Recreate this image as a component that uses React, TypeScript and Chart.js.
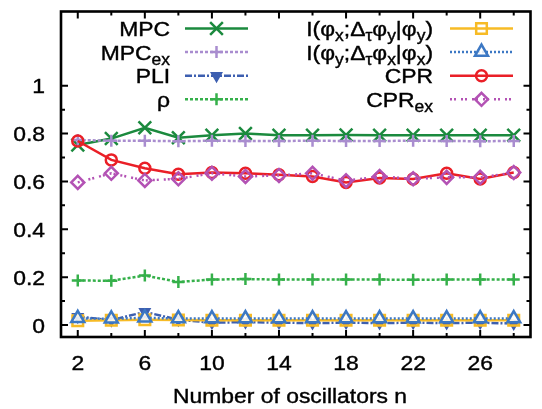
import React, { useEffect, useRef } from 'react';
import { Chart, registerables } from 'chart.js';

Chart.register(...registerables);

const FAMILY = "'Liberation Sans', Arial, Helvetica, sans-serif";

// ---- data ----
const nValues = [2, 4, 6, 8, 10, 12, 14, 16, 18, 20, 22, 24, 26, 28];
const mpc = [0.752, 0.779, 0.824, 0.783, 0.793, 0.800, 0.793, 0.793, 0.794, 0.793, 0.793, 0.793, 0.793, 0.793];
const mpcEx = [0.773, 0.770, 0.770, 0.768, 0.770, 0.769, 0.769, 0.770, 0.769, 0.769, 0.770, 0.769, 0.768, 0.769];
const pli = [0.035, 0.020, 0.055, 0.022, 0.010, 0.012, 0.010, 0.008, 0.010, 0.008, 0.010, 0.008, 0.010, 0.006];
const rho = [0.186, 0.185, 0.207, 0.180, 0.190, 0.192, 0.190, 0.190, 0.190, 0.190, 0.189, 0.190, 0.190, 0.190];
const infoXY = [0.018, 0.020, 0.022, 0.021, 0.020, 0.020, 0.020, 0.020, 0.020, 0.020, 0.020, 0.020, 0.020, 0.020];
const infoYX = [0.028, 0.026, 0.030, 0.027, 0.027, 0.027, 0.027, 0.027, 0.027, 0.027, 0.027, 0.027, 0.027, 0.027];
const cpr = [0.769, 0.690, 0.655, 0.630, 0.637, 0.634, 0.628, 0.621, 0.596, 0.614, 0.610, 0.634, 0.610, 0.637];
const cprEx = [0.596, 0.634, 0.604, 0.611, 0.634, 0.621, 0.625, 0.634, 0.603, 0.621, 0.611, 0.617, 0.617, 0.637];

const xTicks = [2, 6, 10, 14, 18, 22, 26];
const xMinorTicks = [4, 8, 12, 16, 20, 24, 28];
const yTicks = [0, 0.2, 0.4, 0.6, 0.8, 1];
const yMinorTicks = [0.1, 0.3, 0.5, 0.7, 0.9];
const xTitle = 'Number of oscillators n';

type Seg = { t: string; sub?: boolean };
const labels: Seg[][] = [
  [{ t: 'MPC' }],
  [{ t: 'MPC' }, { t: 'ex', sub: true }],
  [{ t: 'PLI' }],
  [{ t: 'ρ' }],
  [{ t: 'I(φ' }, { t: 'x', sub: true }, { t: ';Δ' }, { t: 'τ', sub: true }, { t: 'φ' }, { t: 'y', sub: true }, { t: '|φ' }, { t: 'y', sub: true }, { t: ')' }],
  [{ t: 'I(φ' }, { t: 'y', sub: true }, { t: ';Δ' }, { t: 'τ', sub: true }, { t: 'φ' }, { t: 'x', sub: true }, { t: '|φ' }, { t: 'x', sub: true }, { t: ')' }],
  [{ t: 'CPR' }],
  [{ t: 'CPR' }, { t: 'ex', sub: true }],
];
const seriesNames = ['MPC', 'MPCex', 'PLI', 'rho', 'I(phix;Dphiy|phiy)', 'I(phiy;Dphix|phix)', 'CPR', 'CPRex'];
const seriesValues = [mpc, mpcEx, pli, rho, infoXY, infoYX, cpr, cprEx];

// ---- styles ----
const colors = ['#1b8a3e', '#a98dcf', '#3d5fb0', '#35b04a', '#f7bb25', '#3c78c4', '#ea1f27', '#b352b4'];
const dashes = [[], [3, 2], [7, 2, 2, 2], [3, 2], [], [2, 2], [], [2, 2, 2, 5]];
const pStyles = ['crossRot', 'cross', 'triangle', 'cross', 'rect', 'triangle', 'circle', 'rectRot'];
const pRadius = [9, 6, 5, 6, 7.5, 7.5, 5.5, 6.5];
const pRot = [0, 0, 180, 0, 0, 0, 0, 0];
const pFill = ['transparent', 'transparent', 'fill', 'transparent', 'transparent', 'rgba(255,255,255,0.85)', 'transparent', 'transparent'];

function drawMarker(ctx: CanvasRenderingContext2D, style: string, x: number, y: number, r: number, rot: number, stroke: string, fill: string, lw: number) {
  ctx.save();
  ctx.setLineDash([]);
  ctx.lineWidth = lw;
  ctx.strokeStyle = stroke;
  ctx.fillStyle = fill === 'fill' ? stroke : fill;
  ctx.translate(x, y);
  ctx.rotate((rot * Math.PI) / 180);
  ctx.beginPath();
  if (style === 'crossRot') {
    const d = r * Math.SQRT1_2;
    ctx.moveTo(-d, -d); ctx.lineTo(d, d); ctx.moveTo(-d, d); ctx.lineTo(d, -d);
    ctx.stroke();
  } else if (style === 'cross') {
    ctx.moveTo(-r, 0); ctx.lineTo(r, 0); ctx.moveTo(0, -r); ctx.lineTo(0, r);
    ctx.stroke();
  } else if (style === 'triangle') {
    ctx.moveTo(0, -r); ctx.lineTo(r * 0.866, r * 0.5); ctx.lineTo(-r * 0.866, r * 0.5); ctx.closePath();
    ctx.fill(); ctx.stroke();
  } else if (style === 'rect') {
    const s = r * Math.SQRT1_2;
    ctx.rect(-s, -s, 2 * s, 2 * s);
    ctx.fill(); ctx.stroke();
  } else if (style === 'rectRot') {
    ctx.moveTo(0, -r); ctx.lineTo(r, 0); ctx.lineTo(0, r); ctx.lineTo(-r, 0); ctx.closePath();
    ctx.fill(); ctx.stroke();
  } else {
    ctx.arc(0, 0, r, 0, Math.PI * 2);
    ctx.fill(); ctx.stroke();
  }
  ctx.restore();
}

const MAIN_PX = 21;
const SUB_PX = 16;
const HSCALE = 1.09;

function drawRich(ctx: CanvasRenderingContext2D, segs: Seg[], anchorX: number, baseY: number, align: 'left' | 'right' | 'center') {
  ctx.save();
  ctx.fillStyle = '#000';
  ctx.strokeStyle = '#000';
  ctx.lineWidth = 0.4;
  ctx.setLineDash([]);
  ctx.textAlign = 'left';
  ctx.textBaseline = 'alphabetic';
  let w = 0;
  for (const s of segs) {
    ctx.font = `${s.sub ? SUB_PX : MAIN_PX}px ${FAMILY}`;
    w += ctx.measureText(s.t).width;
  }
  ctx.translate(anchorX, baseY);
  ctx.scale(HSCALE, 1);
  let x = align === 'right' ? -w : align === 'center' ? -w / 2 : 0;
  for (const s of segs) {
    ctx.font = `${s.sub ? SUB_PX : MAIN_PX}px ${FAMILY}`;
    ctx.fillText(s.t, x, s.sub ? 5 : 0);
    ctx.strokeText(s.t, x, s.sub ? 5 : 0);
    x += ctx.measureText(s.t).width;
  }
  ctx.restore();
}

const framePlugin = {
  id: 'frameTicks',
  afterDraw(chart: any) {
    const { ctx, chartArea: a, scales } = chart;
    const xs = scales.x;
    const ys = scales.y;
    ctx.save();
    ctx.strokeStyle = '#000';
    ctx.setLineDash([]);
    ctx.lineWidth = 2;
    ctx.beginPath();
    const tick = (px: number, len: number, vertical: boolean) => {
      if (vertical) {
        ctx.moveTo(px, a.bottom); ctx.lineTo(px, a.bottom - len);
        ctx.moveTo(px, a.top); ctx.lineTo(px, a.top + len);
      } else {
        ctx.moveTo(a.left, px); ctx.lineTo(a.left + len, px);
        ctx.moveTo(a.right, px); ctx.lineTo(a.right - len, px);
      }
    };
    xTicks.forEach((v) => tick(xs.getPixelForValue(v), 7, true));
    xMinorTicks.forEach((v) => tick(xs.getPixelForValue(v), 4, true));
    yTicks.forEach((v) => tick(ys.getPixelForValue(v), 7, false));
    yMinorTicks.forEach((v) => tick(ys.getPixelForValue(v), 4, false));
    ctx.stroke();
    ctx.lineWidth = 2.6;
    ctx.strokeRect(a.left, a.top, a.right - a.left, a.bottom - a.top);

    // tick labels and axis title
    yTicks.forEach((v) => drawRich(ctx, [{ t: String(v) }], a.left - 16, ys.getPixelForValue(v) + 7.5, 'right'));
    xTicks.forEach((v) => drawRich(ctx, [{ t: String(v) }], xs.getPixelForValue(v), a.bottom + 33, 'center'));
    drawRich(ctx, [{ t: xTitle }], 290, a.bottom + 66, 'center');

    // key
    const cols = [
      { textRight: 170, lineL: 185, lineR: 248 },
      { textRight: 433, lineL: 450, lineR: 513 },
    ];
    for (let i = 0; i < 8; i++) {
      const c = cols[Math.floor(i / 4)];
      const rowY = 28.5 + (i % 4) * 23.6;
      drawRich(ctx, labels[i], c.textRight, rowY + 7.5, 'right');
      ctx.save();
      ctx.strokeStyle = colors[i];
      ctx.lineWidth = 2.5;
      ctx.setLineDash(dashes[i]);
      ctx.beginPath();
      ctx.moveTo(c.lineL, rowY);
      ctx.lineTo(c.lineR, rowY);
      ctx.stroke();
      ctx.restore();
      drawMarker(ctx, pStyles[i], (c.lineL + c.lineR) / 2, rowY, pRadius[i], pRot[i], colors[i], pFill[i], 2.5);
    }
    ctx.restore();
  },
};

export default function App() {
  const ref = useRef<HTMLCanvasElement>(null);
  useEffect(() => {
    if (!ref.current) return;
    Chart.defaults.font.family = FAMILY;
    Chart.defaults.color = '#000';
    const datasets = seriesValues.map((vals, i) => ({
      label: seriesNames[i],
      data: nValues.map((n, k) => ({ x: n, y: vals[k] })),
      borderColor: colors[i],
      backgroundColor: colors[i],
      borderWidth: 2.5,
      borderDash: dashes[i],
      pointStyle: pStyles[i] as any,
      pointRadius: pRadius[i],
      pointRotation: pRot[i],
      pointBorderColor: colors[i],
      pointBackgroundColor: pFill[i] === 'fill' ? colors[i] : pFill[i],
      pointBorderWidth: 2.5,
      fill: false,
      tension: 0,
      order: -i,
    }));
    const chart = new Chart(ref.current, {
      type: 'line',
      data: { datasets },
      plugins: [framePlugin],
      options: {
        animation: false,
        responsive: false,
        devicePixelRatio: 1,
        events: [],
        layout: { padding: { top: 11, right: 2, left: 0, bottom: 0 } },
        plugins: { legend: { display: false }, tooltip: { enabled: false } },
        scales: {
          x: {
            type: 'linear',
            min: 1,
            max: 29,
            grid: { display: false, drawTicks: false },
            border: { display: false },
            afterBuildTicks: (s: any) => { s.ticks = xTicks.map((v) => ({ value: v })); },
            afterFit: (s: any) => { s.height = 72; s.paddingLeft = 0; s.paddingRight = 0; s.paddingTop = 0; s.paddingBottom = 0; },
            ticks: { display: false },
            title: { display: false, text: xTitle },
          },
          y: {
            type: 'linear',
            min: -0.05,
            max: 1.31,
            grid: { display: false, drawTicks: false },
            border: { display: false },
            afterBuildTicks: (s: any) => { s.ticks = yTicks.map((v) => ({ value: v })); },
            afterFit: (s: any) => { s.width = 61; s.paddingLeft = 0; s.paddingRight = 0; s.paddingTop = 0; s.paddingBottom = 0; },
            ticks: { display: false },
          },
        },
      },
    } as any);
    return () => chart.destroy();
  }, []);
  return (
    <div style={{ position: 'fixed', left: 0, top: 0, width: 542, height: 409, background: '#fff' }}>
      <canvas ref={ref} width={542} height={409} style={{ display: 'block', width: 542, height: 409 }} />
    </div>
  );
}
